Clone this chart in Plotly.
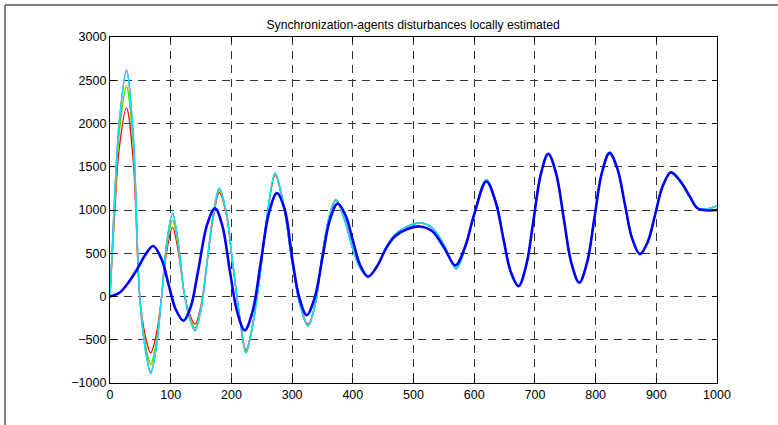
import plotly.graph_objects as go

# x knots for the fast-converging estimates (early part) and shared tail
x_early = [0, 8, 15, 27, 38, 49, 58, 67, 76, 85, 93, 103, 113, 122, 131, 140, 150, 160,
           170, 180, 191, 202, 213, 224, 236, 248, 260, 272, 285, 300, 313, 326, 338, 350,
           362, 372, 386]
x_tail = [400, 412, 425, 440, 455, 470, 485, 510, 530, 550, 570, 585, 600, 620, 636, 648,
          660, 673, 686, 697, 710, 722, 735, 748, 760, 773, 786, 798, 810, 823, 836, 848,
          860, 873, 886, 898, 910, 924, 940, 955, 968, 985, 1000]

red_early = [0, 1000, 1700, 2180, 1600, 0, -450, -650, -450, 0, 500, 800, 500, 50, -200,
             -320, -100, 400, 900, 1200, 970, 380, -200, -615, -280, 300, 980, 1400, 1080,
             400, -90, -320, -90, 500, 940, 1110, 890]
yellow_early = [0, 1130, 1900, 2450, 1800, 0, -550, -800, -550, 0, 560, 900, 560, 50, -230,
                -370, -130, 400, 930, 1230, 990, 390, -200, -635, -290, 300, 990, 1415, 1090,
                400, -95, -330, -95, 500, 945, 1115, 895]
green_early = [0, 1110, 1880, 2420, 1780, 0, -540, -780, -540, 0, 550, 880, 550, 50, -225,
               -360, -125, 400, 925, 1225, 985, 390, -200, -630, -290, 300, 985, 1410, 1085,
               400, -95, -330, -95, 500, 945, 1115, 895]
magenta_early = [0, 1210, 2010, 2620, 1900, 0, -600, -870, -600, 0, 590, 950, 590, 50, -245,
                 -390, -145, 400, 945, 1245, 995, 400, -200, -645, -300, 300, 995, 1420, 1095,
                 400, -100, -338, -100, 500, 950, 1120, 900]
lightblue_early = [0, 1200, 2000, 2600, 1900, 0, -610, -890, -610, 0, 600, 965, 600, 50, -250,
                   -400, -150, 400, 950, 1255, 1000, 400, -200, -655, -300, 300, 1000, 1428,
                   1100, 400, -100, -342, -100, 500, 950, 1122, 900]
cyan_early = [0, 1200, 2000, 2610, 1900, 0, -600, -880, -600, 0, 600, 960, 600, 50, -250,
              -395, -150, 400, 950, 1250, 1000, 400, -200, -650, -300, 300, 1000, 1425, 1100,
              400, -100, -340, -100, 500, 950, 1120, 900]

fast_tail = [550, 330, 230, 350, 570, 720, 795, 850, 800, 600, 320, 560, 960, 1350, 1090, 680,
             290, 125, 370, 855, 1425, 1640, 1415, 877, 386, 165, 396, 908, 1420, 1650, 1471,
             1072, 673, 495, 633, 945, 1265, 1430, 1320, 1150, 1020, 1015, 1050]

# thick blue (lagging) estimate
x_blue = [0, 15, 27, 44, 58, 71, 85, 97, 108, 121, 133, 145, 160, 173, 185, 198, 210, 222,
          235, 248, 262, 275, 288, 300, 312, 324, 337, 350, 362, 375, 388, 400, 412, 425,
          440, 455, 470, 490, 510, 530, 550, 569, 585, 600, 620, 636, 648, 660, 673, 686,
          697, 710, 722, 735, 748, 760, 773, 786, 798, 810, 823, 836, 848, 860, 873, 886,
          898, 910, 924, 940, 955, 968, 985, 1000]
y_blue = [0, 40, 130, 306, 480, 584, 430, 125, -144, -280, -120, 290, 830, 1020, 820, 270,
          -190, -390, -170, 377, 970, 1195, 1000, 446, -16, -215, -20, 450, 880, 1075, 940,
          650, 365, 230, 350, 560, 700, 780, 810, 760, 570, 360,
          575, 950, 1330, 1075, 670, 290, 120, 370, 850, 1420, 1650, 1420, 880, 390, 160, 395,
          905, 1420, 1660, 1475, 1075, 675, 490, 633, 945, 1265, 1435, 1330, 1160, 1020, 995,
          1000]

fig = go.Figure()
x_fast = x_early + x_tail
series = [
    ("red", red_early),
    ("#e8e800", yellow_early),
    ("#40e000", green_early),
    ("#ff40ff", magenta_early),
    ("#5fa8ff", lightblue_early),
    ("#00e8f0", cyan_early),
]
for color, early in series:
    fig.add_trace(go.Scatter(x=x_fast, y=early + fast_tail, mode="lines",
                             line=dict(color=color, width=1.3, shape="spline", smoothing=1.0),
                             showlegend=False, hoverinfo="skip"))
fig.add_trace(go.Scatter(x=x_blue, y=y_blue, mode="lines",
                         line=dict(color="#0000ff", width=2.6, shape="spline", smoothing=1.0),
                         showlegend=False, hoverinfo="skip"))

axis_common = dict(showline=True, linecolor="black", linewidth=1.2, mirror="ticks",
                   ticks="inside", ticklen=5, tickcolor="black", showgrid=True,
                   gridcolor="#333333", gridwidth=1, griddash="8px,6px", zeroline=False,
                   tickfont=dict(family="Liberation Sans, Arial", size=12.5, color="black"))
fig.update_xaxes(range=[0, 1000], tickvals=list(range(0, 1001, 100)), **axis_common)
fig.update_yaxes(range=[-1000, 3000], tickvals=list(range(-1000, 3001, 500)), **axis_common)

fig.update_layout(
    width=778, height=425,
    margin=dict(l=110, r=61, t=37, b=42),
    paper_bgcolor="white", plot_bgcolor="white",
    title=dict(text="Synchronization-agents disturbances locally estimated",
               x=0.531, xanchor="center", y=0.942, yanchor="middle",
               font=dict(family="Liberation Sans, Arial", size=12.2, color="black")),
)
# outer frame (top and left edges)
fig.add_shape(type="line", xref="paper", yref="paper", x0=-105/607, x1=668/607,
              y0=1 + 32/346, y1=1 + 32/346, line=dict(color="#555555", width=1.5))
fig.add_shape(type="line", xref="paper", yref="paper", x0=-105/607, x1=-105/607,
              y0=-45/346, y1=1 + 32/346, line=dict(color="#555555", width=1.5))

fig.write_html("out.html")
